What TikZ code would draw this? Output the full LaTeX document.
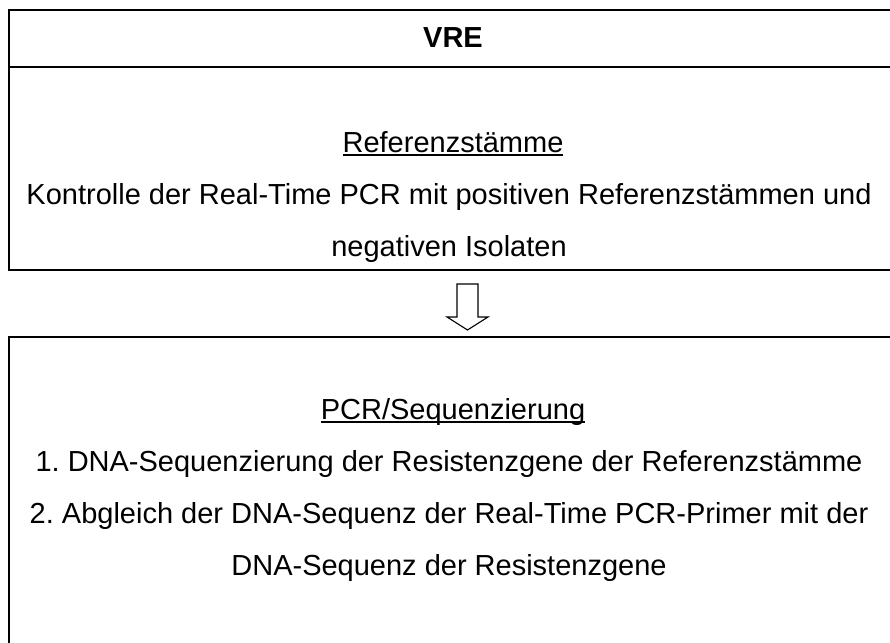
\documentclass[tikz,border=0pt]{standalone}
\usepackage{fontspec}
\setmainfont{Liberation Sans}
\usepackage{tikz}

\newcommand{\undertext}[1]{\setbox0\hbox{#1}\rlap{\rule[-4pt]{\wd0}{2.4pt}}\box0}

\tikzset{
	boxline/.style={line width=2.2pt},
	boxtext/.style={align=center,anchor=base,inner sep=0pt,
		font=\fontsize{29}{52}\selectfont\frenchspacing}
}

\begin{document}
\begin{tikzpicture}[x=1pt,y=-1pt]
	\useasboundingbox (0,0) rectangle (890,642);
	\clip (0,0) rectangle (890,642);
	% upper box
	\draw [boxline] (9,10) rectangle (900,270);
	\draw [boxline] (9,67) -- (900,67);
	\node [boxtext] (vre) at (453,48) {\bfseries VRE};
	\node [boxtext] (reftitle) at (453,152) {\undertext{Referenzstämme}};
	\node [boxtext] (reftext) at (449,256)
	{
		Kontrolle der Real-Time PCR mit positiven Referenzstämmen und\\
		negativen Isolaten
	};
	% arrow
	\coordinate (arr) at (467.5,284);
	\draw [line width=1.1pt,line join=miter]
	(arr) ++(-10.5,0) -- ++(0,33) -- ++(-10,0) -- ++(20.5,13)
	-- ++(20.5,-13) -- ++(-10,0) -- ++(0,-33) -- cycle;
	% lower box
	\draw [boxline] (9,337) rectangle (900,660);
	\node [boxtext] (pcrtitle) at (453,419) {\undertext{PCR/Sequenzierung}};
	\node [boxtext] (pcrtext) at (449,575)
	{
		1. DNA-Sequenzierung der Resistenzgene der Referenzstämme\\
		2. Abgleich der DNA-Sequenz der Real-Time PCR-Primer mit der\\
		DNA-Sequenz der Resistenzgene
	};
\end{tikzpicture}
\end{document}
